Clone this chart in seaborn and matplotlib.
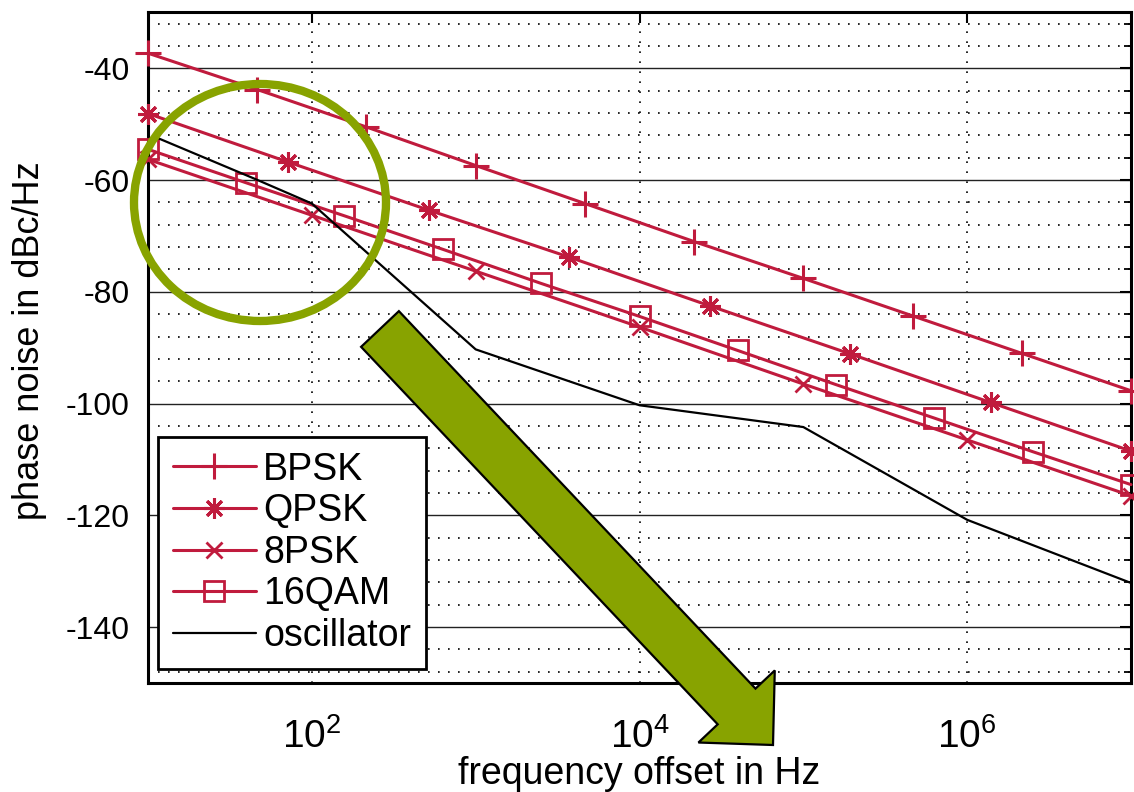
import matplotlib
matplotlib.use('Agg')
import matplotlib.pyplot as plt
import matplotlib.patches as mpatches
from matplotlib.transforms import IdentityTransform
from matplotlib.ticker import FixedLocator, MultipleLocator, NullLocator, FixedFormatter
import seaborn as sns

# values (frequency offset in Hz, phase noise in dBc/Hz)
bpsk_f = [10, 46.4, 215, 1000, 4640, 21500, 1e5, 4.64e5, 2.15e6, 1e7]
bpsk_pn = [-37.3, -43.8, -50.5, -57.4, -64.2, -71.0, -77.6, -84.3, -91.0, -97.7]
qpsk_f = [10, 72, 519, 3730, 26800, 193000, 1.39e6, 1e7]
qpsk_pn = [-48.1, -56.8, -65.4, -73.8, -82.5, -91.1, -99.8, -108.5]
psk8_f = [10, 100, 1e3, 1e4, 1e5, 1e6, 1e7]
psk8_pn = [-56.3, -66.3, -76.3, -86.3, -96.5, -106.5, -116.5]
qam16_f = [10, 39.8, 158, 631, 2510, 1e4, 39800, 158000, 631000, 2.51e6, 1e7]
qam16_pn = [-54.5, -60.5, -66.4, -72.4, -78.5, -84.4, -90.5, -96.6, -102.6, -108.6, -114.5]
osc_f = [11.5, 45, 100, 1000, 1e4, 1e5, 1e6, 1e7]
osc_pn = [-52.5, -59.8, -64.2, -90.3, -100.3, -104.2, -120.8, -132.1]

x_ticks = [1e2, 1e4, 1e6]
x_ticklabels = ['$\\mathregular{10^2}$', '$\\mathregular{10^4}$', '$\\mathregular{10^6}$']
y_ticks = [-140, -120, -100, -80, -60, -40]

red = '#c01b3d'
green = '#88a300'

sns.set_style('white')
plt.rcParams['font.family'] = ['Liberation Sans', 'DejaVu Sans']
plt.rcParams['axes.unicode_minus'] = False
plt.rcParams['text.color'] = 'black'
plt.rcParams['axes.labelcolor'] = 'black'
plt.rcParams['xtick.color'] = 'black'
plt.rcParams['ytick.color'] = 'black'

fig = plt.figure(figsize=(11.34, 7.92), dpi=100)
ax = fig.add_axes([148 / 1134, 1 - 683 / 792, 983 / 1134, 670.6 / 792])

series = [
    ('BPSK', bpsk_f, bpsk_pn, '+', 19, 2.2),
    ('QPSK', qpsk_f, qpsk_pn, (8, 2, 0), 15, 2.2),
    ('8PSK', psk8_f, psk8_pn, 'x', 12, 2.0),
    ('16QAM', qam16_f, qam16_pn, 's', 15, 2.0),
]
for name, f, pn, mk, ms, mew in series:
    sns.lineplot(x=f, y=pn, ax=ax, color=red, lw=2.2, marker=mk, markersize=ms,
                 markeredgewidth=mew, markeredgecolor=red, markerfacecolor='none',
                 label=name, zorder=3, clip_on=False)
sns.lineplot(x=osc_f, y=osc_pn, ax=ax, color='black', lw=1.6, label='oscillator', zorder=3)

ax.set_xscale('log')
ax.set_xlim(10, 1e7)
ax.set_ylim(-150, -30)
ax.xaxis.set_major_locator(FixedLocator(x_ticks))
ax.xaxis.set_major_formatter(FixedFormatter(x_ticklabels))
ax.xaxis.set_minor_locator(NullLocator())
ax.yaxis.set_major_locator(FixedLocator(y_ticks))
ax.yaxis.set_minor_locator(MultipleLocator(4))

ax.grid(True, which='major', axis='y', color='#222222', lw=1.0, ls='-')
ax.grid(True, which='minor', axis='y', color='black', lw=1.2, ls=(0, (1, 5)))
ax.grid(True, which='major', axis='x', color='black', lw=1.2, ls=(0, (1, 5)))
ax.set_axisbelow(True)

ax.tick_params(axis='both', which='both', direction='in', top=True, right=True, color='black')
ax.tick_params(axis='both', which='major', length=8, width=1.5)
ax.tick_params(axis='y', which='minor', length=5, width=1.3)
ax.tick_params(axis='y', which='major', labelsize=23, pad=13)
ax.tick_params(axis='x', which='major', labelsize=28, pad=25)
for sp in ax.spines.values():
    sp.set_color('black')
    sp.set_linewidth(2.2)

ax.set_xlabel('frequency offset in Hz', fontsize=27, labelpad=0)
ax.set_ylabel('phase noise in dBc/Hz', fontsize=26)
ax.yaxis.set_label_coords(-0.103, 0.51)

leg = ax.legend(loc='lower left', bbox_to_anchor=(0.0102, 0.0208), borderaxespad=0,
                fontsize=27, handlelength=2.2, handletextpad=0.2, labelspacing=0.15,
                borderpad=0.4, fancybox=False, framealpha=1, edgecolor='black')
leg.get_frame().set_linewidth(2.0)

# highlight ring and arrow drawn in pixel coordinates of the figure
ring = mpatches.Ellipse((260, 792 - 202.5), 252, 237, fill=False, edgecolor=green,
                        lw=6.0, transform=IdentityTransform(), zorder=10)
fig.patches.append(ring)
arrow = mpatches.FancyArrow(380, 792 - 329, 393, -416, width=52, head_width=105,
                            head_length=53, length_includes_head=True,
                            facecolor=green, edgecolor='black', lw=1.6,
                            transform=IdentityTransform(), zorder=10)
fig.patches.append(arrow)

fig.savefig('out.png', dpi=100)
